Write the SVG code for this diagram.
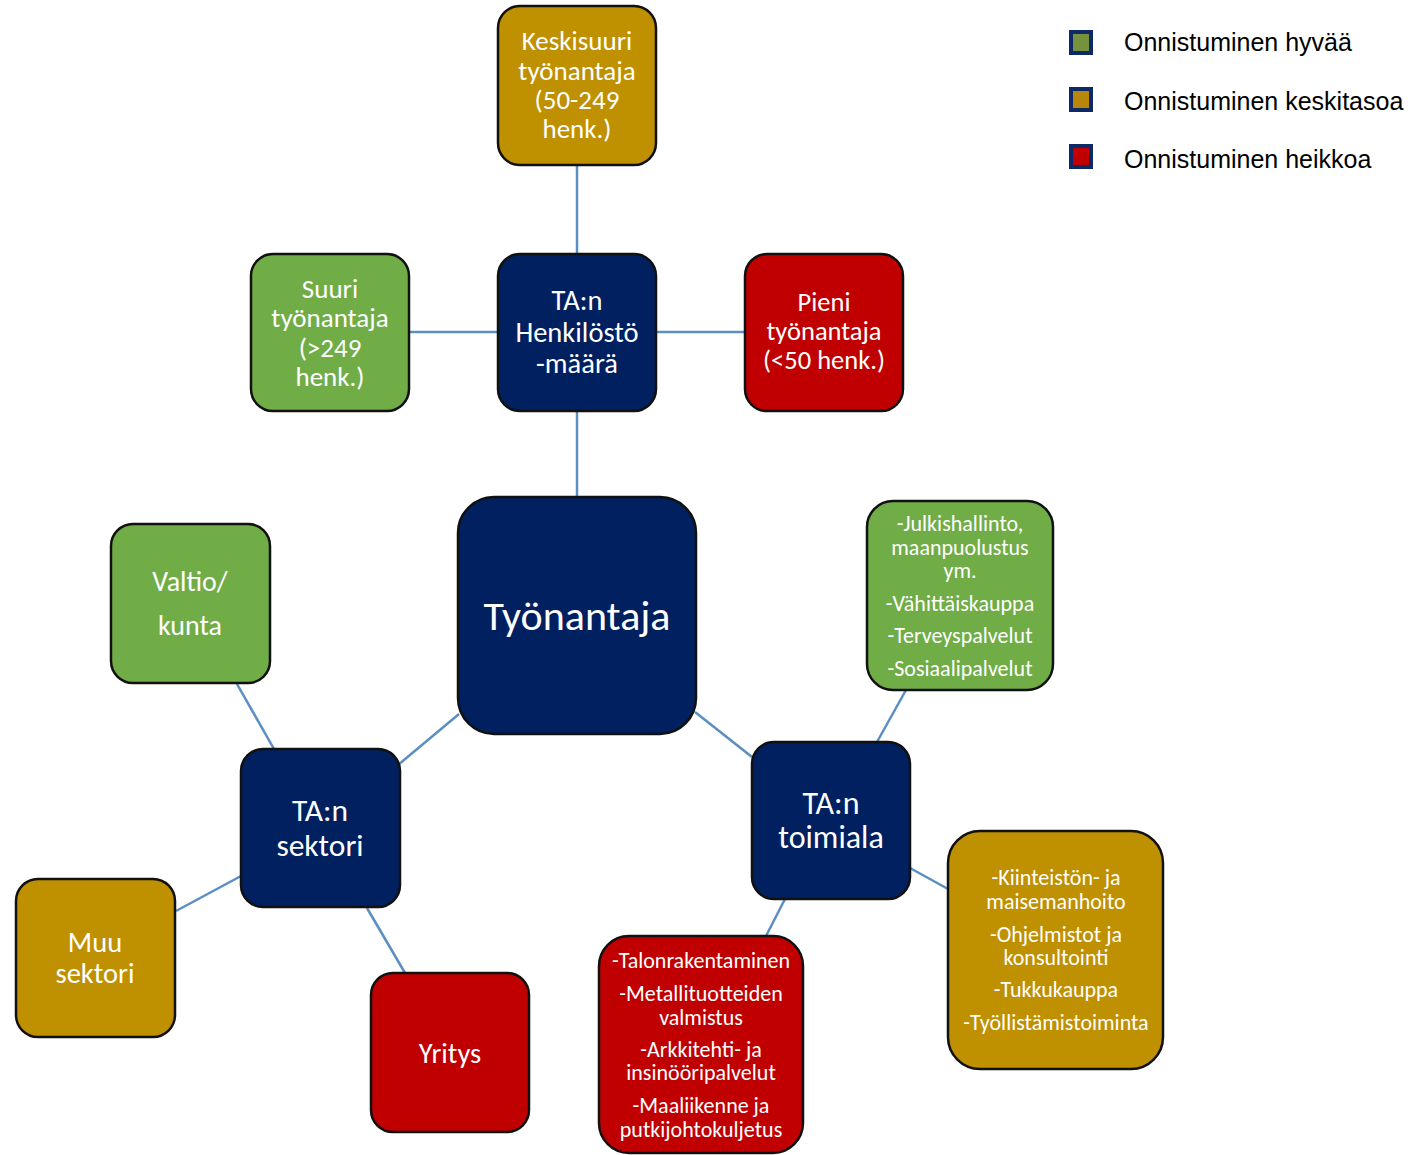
<svg xmlns="http://www.w3.org/2000/svg" width="1418" height="1155" viewBox="0 0 1418 1155">
<style>
.n{stroke:#111;stroke-width:2.5}
.g{fill:#70AD47}.o{fill:#BF9000}.r{fill:#C00000}.b{fill:#002060}
.t{font-family:Carlito,Lato,"Noto Sans",sans-serif;fill:#fff;text-anchor:middle;dominant-baseline:central}
.s{font-size:22px}
.c{stroke:#5B8EC2;stroke-width:2.5;fill:none}
.lg{font-family:"Liberation Sans",Arial,sans-serif;font-size:25px;fill:#000}
.ls{stroke:#0E2A66;stroke-width:4}
</style>
<rect width="1418" height="1155" fill="#fff"/>
<g id="connectors">
<line class="c" x1="577" y1="165" x2="577" y2="254"/>
<line class="c" x1="409" y1="332" x2="498" y2="332"/>
<line class="c" x1="656" y1="332" x2="745" y2="332"/>
<line class="c" x1="577" y1="411" x2="577" y2="497"/>
<line class="c" x1="459" y1="714" x2="398" y2="765"/>
<line class="c" x1="237" y1="684" x2="274" y2="749"/>
<line class="c" x1="241" y1="876" x2="176" y2="911"/>
<line class="c" x1="367" y1="908" x2="405" y2="973"/>
<line class="c" x1="695" y1="712" x2="752" y2="757"/>
<line class="c" x1="877" y1="742" x2="906" y2="690"/>
<line class="c" x1="910" y1="868" x2="948" y2="889"/>
<line class="c" x1="785" y1="899" x2="766" y2="936"/>
</g>
<g id="keskisuuri">
<rect class="n o" x="498" y="6" width="158" height="159" rx="22"/>
<text class="t" font-size="27"><tspan x="577" y="40">Keskisuuri</tspan><tspan x="577" y="70">työnantaja</tspan><tspan x="577" y="99">(50-249</tspan><tspan x="577" y="128">henk.)</tspan></text>
</g>
<g id="suuri">
<rect class="n g" x="251" y="254" width="158" height="157" rx="22"/>
<text class="t" font-size="27"><tspan x="330" y="288">Suuri</tspan><tspan x="330" y="317">työnantaja</tspan><tspan x="330" y="347">(&gt;249</tspan><tspan x="330" y="376">henk.)</tspan></text>
</g>
<g id="henkilosto">
<rect class="n b" x="498" y="254" width="158" height="157" rx="22"/>
<text class="t" font-size="28.5"><tspan x="577" y="300">TA:n</tspan><tspan x="577" y="332">Henkilöstö</tspan><tspan x="577" y="363">-määrä</tspan></text>
</g>
<g id="pieni">
<rect class="n r" x="745" y="254" width="158" height="157" rx="22"/>
<text class="t" font-size="26.5"><tspan x="824" y="302">Pieni</tspan><tspan x="824" y="331">työnantaja</tspan><tspan x="824" y="360">(&lt;50 henk.)</tspan></text>
</g>
<g id="tyonantaja">
<rect class="n b" x="458" y="497" width="238" height="237" rx="36"/>
<text class="t" font-size="42" x="577" y="615">Työnantaja</text>
</g>
<g id="valtio">
<rect class="n g" x="111" y="524" width="159" height="159" rx="22"/>
<text class="t" font-size="28"><tspan x="190" y="581">Valtio/</tspan><tspan x="190" y="625">kunta</tspan></text>
</g>
<g id="sektori">
<rect class="n b" x="241" y="749" width="159" height="158" rx="22"/>
<text class="t" font-size="31.5"><tspan x="320" y="810">TA:n</tspan><tspan x="320" y="845">sektori</tspan></text>
</g>
<g id="muu">
<rect class="n o" x="16" y="879" width="159" height="158" rx="22"/>
<text class="t" font-size="28.5"><tspan x="95" y="942">Muu</tspan><tspan x="95" y="973">sektori</tspan></text>
</g>
<g id="yritys">
<rect class="n r" x="371" y="973" width="158" height="159" rx="22"/>
<text class="t" font-size="28.5" x="450" y="1053">Yritys</text>
</g>
<g id="toimiala">
<rect class="n b" x="752" y="742" width="158" height="157" rx="22"/>
<text class="t" font-size="32"><tspan x="831" y="803">TA:n</tspan><tspan x="831" y="837">toimiala</tspan></text>
</g>
<g id="julkis">
<rect class="n g" x="867" y="501" width="186" height="189" rx="26"/>
<text class="t s"><tspan x="960" y="523">-Julkishallinto,</tspan><tspan x="960" y="547">maanpuolustus</tspan><tspan x="960" y="570">ym.</tspan><tspan x="960" y="603">-Vähittäiskauppa</tspan><tspan x="960" y="635">-Terveyspalvelut</tspan><tspan x="960" y="668">-Sosiaalipalvelut</tspan></text>
</g>
<g id="kiinteisto">
<rect class="n o" x="948" y="831" width="215" height="238" rx="32"/>
<text class="t s"><tspan x="1056" y="877">-Kiinteistön- ja</tspan><tspan x="1056" y="901">maisemanhoito</tspan><tspan x="1056" y="934">-Ohjelmistot ja</tspan><tspan x="1056" y="957">konsultointi</tspan><tspan x="1056" y="989">-Tukkukauppa</tspan><tspan x="1056" y="1022">-Työllistämistoiminta</tspan></text>
</g>
<g id="talonrak">
<rect class="n r" x="599" y="936" width="204" height="217" rx="30"/>
<text class="t s"><tspan x="701" y="960">-Talonrakentaminen</tspan><tspan x="701" y="993">-Metallituotteiden</tspan><tspan x="701" y="1017">valmistus</tspan><tspan x="701" y="1049">-Arkkitehti- ja</tspan><tspan x="701" y="1072">insinööripalvelut</tspan><tspan x="701" y="1105">-Maaliikenne ja</tspan><tspan x="701" y="1129">putkijohtokuljetus</tspan></text>
</g>
<g id="legend">
<rect class="ls" x="1071" y="32" width="20" height="21" fill="#76923C"/>
<text class="lg" x="1124" y="51">Onnistuminen hyvää</text>
<rect class="ls" x="1071" y="89" width="20" height="21" fill="#B8860B"/>
<text class="lg" x="1124" y="110">Onnistuminen keskitasoa</text>
<rect class="ls" x="1071" y="146" width="20" height="21" fill="#C00000"/>
<text class="lg" x="1124" y="168">Onnistuminen heikkoa</text>
</g>
</svg>
